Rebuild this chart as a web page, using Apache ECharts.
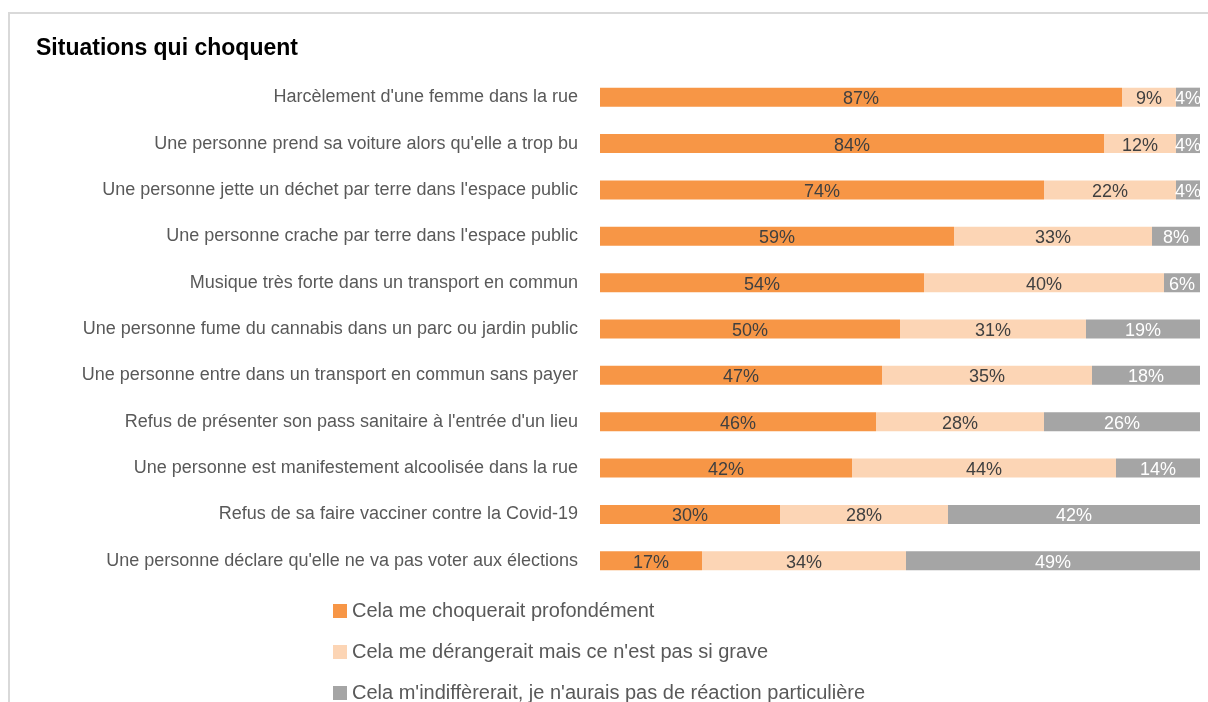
<!DOCTYPE html>
<html>
<head>
<meta charset="utf-8">
<script src="https://cdn.jsdelivr.net/npm/echarts@6/dist/echarts.min.js"></script>
<style>
  html, body { margin: 0; padding: 0; background: #fff; }
  #frame { position: absolute; left: 8px; top: 12px; width: 1220px; height: 720px;
           border-top: 2px solid #d9d9d9; border-left: 2px solid #d9d9d9; }
  #main { position: absolute; left: 0; top: 0; width: 1208px; height: 702px; }
</style>
</head>
<body>
<div id="frame"></div>
<div id="main"></div>
<script>
// situations (top to bottom)
var categories = [
  "Harcèlement d'une femme dans la rue",
  "Une personne prend sa voiture alors qu'elle a trop bu",
  "Une personne jette un déchet par terre dans l'espace public",
  "Une personne crache par terre dans l'espace public",
  "Musique très forte dans un transport en commun",
  "Une personne fume du cannabis dans un parc ou jardin public",
  "Une personne entre dans un transport en commun sans payer",
  "Refus de présenter son pass sanitaire à l'entrée d'un lieu",
  "Une personne est manifestement alcoolisée dans la rue",
  "Refus de sa faire vacciner contre la Covid-19",
  "Une personne déclare qu'elle ne va pas voter aux élections"
];
var choque = [87, 84, 74, 59, 54, 50, 47, 46, 42, 30, 17];      // choquerait profondément
var derange = [9, 12, 22, 33, 40, 31, 35, 28, 44, 28, 34];      // dérangerait
var indiff = [4, 4, 4, 8, 6, 19, 18, 26, 14, 42, 49];           // indifférent

var seriesNames = [
  "Cela me choquerait profondément",
  "Cela me dérangerait mais ce n'est pas si grave",
  "Cela m'indiffèrerait, je n'aurais pas de réaction particulière"
];

var font = 'Liberation Sans';

function makeSerie(name, data, color, labelColor) {
  return {
    name: name,
    type: 'bar',
    stack: 'total',
    data: data,
    barCategoryGap: '59%',
    itemStyle: { color: color },
    label: {
      show: true,
      position: 'inside',
      offset: [0, 2],
      formatter: '{c}%',
      color: labelColor,
      fontFamily: font,
      fontSize: 18
    },
    emphasis: { disabled: true }
  };
}

var chart = echarts.init(document.getElementById('main'));
var option = {
  animation: false,
  title: {
    text: 'Situations qui choquent',
    left: 31,
    top: 32,
    textStyle: { fontFamily: font, fontSize: 23, fontWeight: 'bold', color: '#000' }
  },
  grid: { left: 600, right: 8, top: 74, bottom: 118 },
  xAxis: {
    type: 'value',
    min: 0,
    max: 100,
    show: false
  },
  yAxis: {
    type: 'category',
    data: categories,
    inverse: true,
    axisLine: { show: false },
    axisTick: { show: false },
    axisLabel: { margin: 22, color: '#595959', fontFamily: font, fontSize: 18 }
  },
  legend: {
    orient: 'vertical',
    left: 328,
    top: 596,
    height: 110,
    itemGap: 21,
    itemWidth: 14,
    itemHeight: 14,
    icon: 'rect',
    textStyle: { color: '#595959', fontFamily: font, fontSize: 20 },
    data: seriesNames
  },
  series: [
    makeSerie(seriesNames[0], choque, '#F79646', '#404040'),
    makeSerie(seriesNames[1], derange, '#FCD5B5', '#404040'),
    makeSerie(seriesNames[2], indiff, '#A5A5A5', '#ffffff')
  ]
};
chart.setOption(option);
</script>
</body>
</html>
